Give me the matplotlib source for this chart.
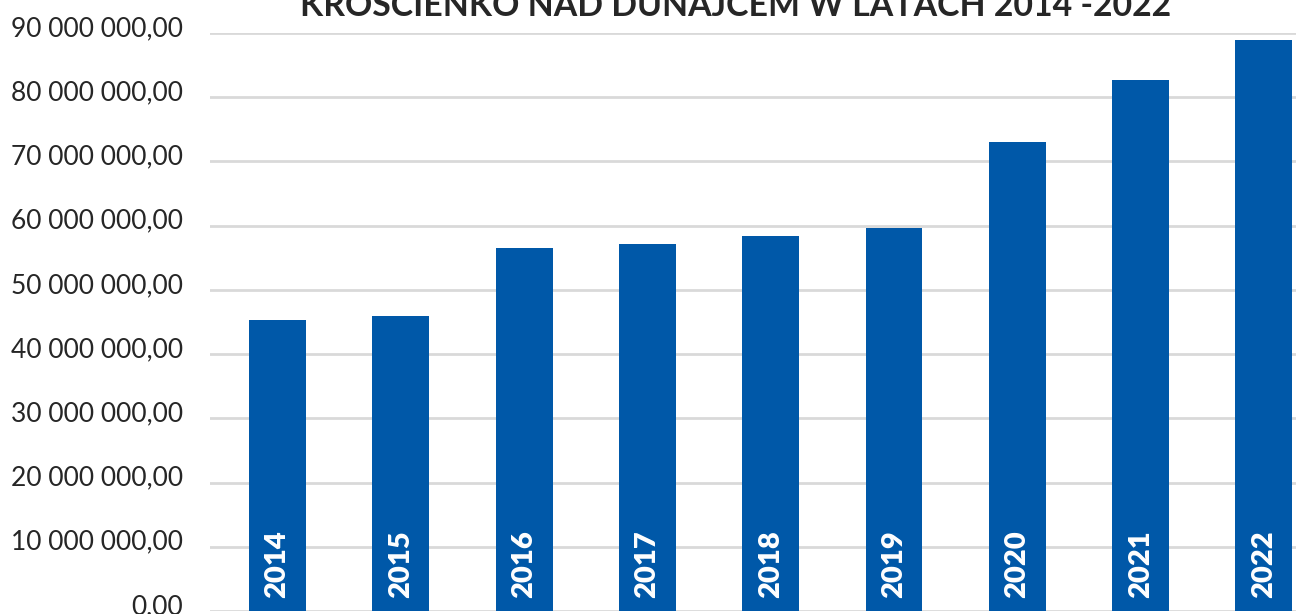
import matplotlib
matplotlib.use("Agg")
import matplotlib.pyplot as plt
from matplotlib.ticker import FuncFormatter
from matplotlib.transforms import ScaledTranslation

# data
years = ["2014", "2015", "2016", "2017", "2018", "2019", "2020", "2021", "2022"]
income = [45.3e6, 45.95e6, 56.5e6, 57.2e6, 58.4e6, 59.7e6, 73.05e6, 82.7e6, 88.9e6]
y_ticks = [0, 10e6, 20e6, 30e6, 40e6, 50e6, 60e6, 70e6, 80e6, 90e6]

title = "KROŚCIENKO NAD DUNAJCEM W LATACH 2014 -2022"

bar_color = "#0058A8"
grid_color = "#D9D9D9"
text_color = "#262626"

W, H = 1296, 614
fig = plt.figure(figsize=(W / 100, H / 100), dpi=100)
plt.rcParams["font.family"] = ["Lato", "DejaVu Sans"]

# axes placed in pixel terms: left edge at 210px, zero line at 611px, 90M at 33px
ax = fig.add_axes([210 / W, 3 / H, (W - 210) / W, (611 - 33) / H])

x = list(range(len(years)))
ax.bar(x, income, width=0.462, color=bar_color, zorder=3)

for xi, yr in zip(x, years):
    ax.text(xi, 2.0e6, yr, rotation=90, ha="center", va="bottom",
            color="white", fontsize=21, fontweight="heavy", zorder=4)

ax.set_xlim(-0.547, 8.26)
ax.set_ylim(0, 90e6)
ax.set_yticks(y_ticks)
ax.yaxis.set_major_formatter(FuncFormatter(
    lambda v, p: f"{v:,.2f}".replace(",", " ").replace(".", ",")))
ax.tick_params(axis="y", length=0, pad=19.5, labelsize=19, labelcolor=text_color)
ax.set_xticks([])

# labels in the reference sit a few pixels above their gridlines
shift = ScaledTranslation(0, 7 / 100, fig.dpi_scale_trans)
for lbl in ax.get_yticklabels():
    lbl.set_transform(lbl.get_transform() + shift)

ax.grid(axis="y", color=grid_color, linewidth=2, zorder=0)
for s in ax.spines.values():
    s.set_visible(False)

fig.text(736 / W, 1 - 16 / H, title, ha="center", va="baseline",
         fontsize=24.4, fontweight="bold", color=text_color)

fig.savefig("out.png", dpi=100)
